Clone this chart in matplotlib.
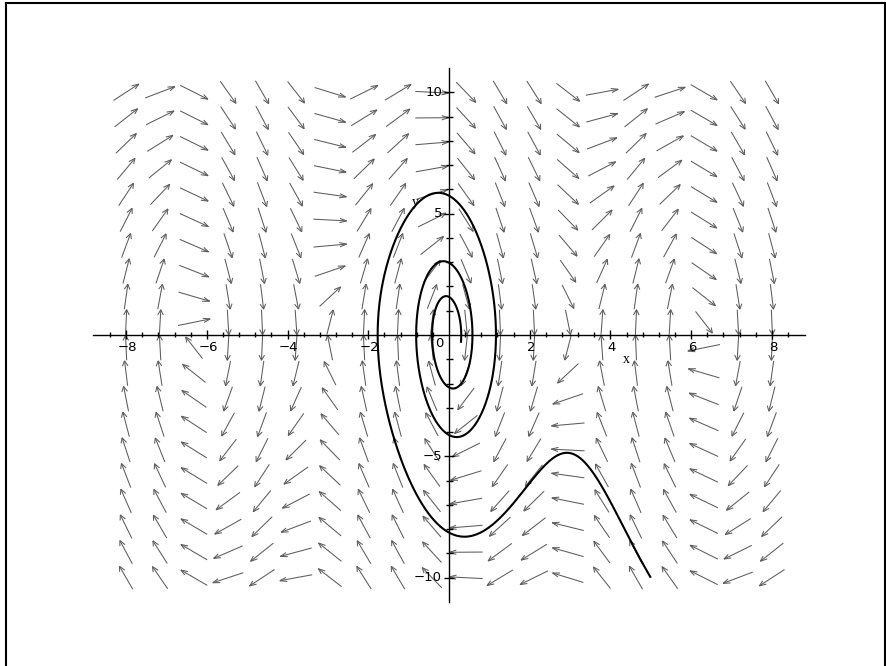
import numpy as np
import matplotlib
matplotlib.use("Agg")
import matplotlib.pyplot as plt
from matplotlib.collections import LineCollection
from matplotlib.lines import Line2D

# ---- model: x' = y, y' = -A sin(x) - B y ----
A_COEF = 20.0
B_COEF = 0.9
x_start, y_start = 5.0, -10.0
t_end = 4.96

# field grid (20 x 20 arrows)
grid_x = np.linspace(-8, 8, 20)
grid_y = np.linspace(-10, 10, 20)

x_ticks_major = [-8, -6, -4, -2, 2, 4, 6, 8]
x_tick_labels = ["\u22128", "\u22126", "\u22124", "\u22122", "2", "4", "6", "8"]
y_ticks_major = [-10, -5, 5, 10]
y_tick_labels = ["\u221210", "\u22125", "5", "10"]

XMIN, XMAX, YMIN, YMAX = -8.82, 8.82, -11.0, 11.0


def rhs(x, y):
    return y, -A_COEF * np.sin(x) - B_COEF * y


def integrate(x0, y0, T, dt=0.0005):
    n = int(round(T / dt))
    xs = np.empty(n + 1); ys = np.empty(n + 1)
    x, y = x0, y0
    xs[0], ys[0] = x, y
    for i in range(n):
        k1 = rhs(x, y)
        k2 = rhs(x + dt / 2 * k1[0], y + dt / 2 * k1[1])
        k3 = rhs(x + dt / 2 * k2[0], y + dt / 2 * k2[1])
        k4 = rhs(x + dt * k3[0], y + dt * k3[1])
        x += dt / 6 * (k1[0] + 2 * k2[0] + 2 * k3[0] + k4[0])
        y += dt / 6 * (k1[1] + 2 * k2[1] + 2 * k3[1] + k4[1])
        xs[i + 1], ys[i + 1] = x, y
    return xs, ys


fig = plt.figure(figsize=(8.86, 6.66), dpi=100)
W, H = 886, 666
ax = fig.add_axes([93 / W, 1 - 602 / H, 712 / W, 534 / H])
ax.set_xlim(XMIN, XMAX)
ax.set_ylim(YMIN, YMAX)
ax.axis("off")

# ---- direction field ----
cx = grid_x[1] - grid_x[0]
cy = grid_y[1] - grid_y[0]
segs = []
head_len = 0.22
head_ang = np.deg2rad(22)
for gx in grid_x:
    for gy in grid_y:
        u, v = rhs(gx, gy)
        un, vn = u / cx, v / cy
        n = np.hypot(un, vn)
        if n == 0:
            continue
        un, vn = un / n, vn / n
        L = 0.98
        tail = (gx - 0.5 * L * un * cx, gy - 0.5 * L * vn * cy)
        head = (gx + 0.5 * L * un * cx, gy + 0.5 * L * vn * cy)
        segs.append([tail, head])
        for s in (1, -1):
            ca, sa = np.cos(s * head_ang), np.sin(s * head_ang)
            bx = -(un * ca - vn * sa)
            by = -(un * sa + vn * ca)
            segs.append([head, (head[0] + head_len * bx * cx, head[1] + head_len * by * cy)])
ax.add_collection(LineCollection(segs, colors="#5c5c5c", linewidths=0.75, zorder=2))

# ---- trajectory ----
tx, ty = integrate(x_start, y_start, t_end)
ax.plot(tx, ty, color="black", lw=1.5, zorder=4, solid_capstyle="butt")

# ---- axes through origin ----
ax.plot([XMIN, XMAX], [0, 0], color="black", lw=1.0, zorder=5, clip_on=False)
ax.plot([0, 0], [YMIN, YMAX], color="black", lw=1.0, zorder=5, clip_on=False)

px_x = 712 / (XMAX - XMIN)
px_y = 534 / (YMAX - YMIN)
tsegs = []
for k in range(-21, 22):
    xv = 0.4 * k
    if abs(xv) < 1e-9:
        continue
    major = abs(xv - round(xv)) < 1e-9 and int(round(xv)) % 2 == 0
    h = (4.5 if major else 2.5) / px_y
    tsegs.append([(xv, -h), (xv, h)])
for k in range(-10, 11):
    if k == 0:
        continue
    major = k % 5 == 0
    w = (5 if major else 3.5) / px_x
    tsegs.append([(-w, k), (w, k)])
ax.add_collection(LineCollection(tsegs, colors="black", linewidths=1.0, zorder=5, clip_on=False))

fs = 9.5
for xv, lab in zip(x_ticks_major, x_tick_labels):
    ax.text(xv + 0.03, -6 / px_y, lab, ha="center", va="top", fontsize=fs,
            family="DejaVu Sans", color="black", zorder=6)
for yv, lab in zip(y_ticks_major, y_tick_labels):
    ax.text(-7 / px_x, yv, lab, ha="right", va="center", fontsize=fs,
            family="DejaVu Sans", color="black", zorder=6)
ax.text(-6 / px_x, -2 / px_y, "0", ha="right", va="top", fontsize=fs,
        family="DejaVu Sans", color="black", zorder=6)
ax.text(4.39, -1.02, "x", ha="center", va="center", fontsize=10,
        family="Liberation Serif", color="black", zorder=6)
ax.text(-0.83, 5.46, "y", ha="center", va="center", fontsize=10,
        family="Liberation Serif", color="black", zorder=6)

# ---- outer frame ----
fl = dict(color="black", lw=1.5, transform=fig.transFigure)
fig.add_artist(Line2D([5.5 / W, 5.5 / W], [0, 1 - 2.5 / H], **fl))
fig.add_artist(Line2D([5.5 / W, 884.5 / W], [1 - 2.5 / H, 1 - 2.5 / H], **fl))
fig.add_artist(Line2D([884.5 / W, 884.5 / W], [0, 1 - 2.5 / H], **fl))

fig.savefig("out.png", dpi=100)
